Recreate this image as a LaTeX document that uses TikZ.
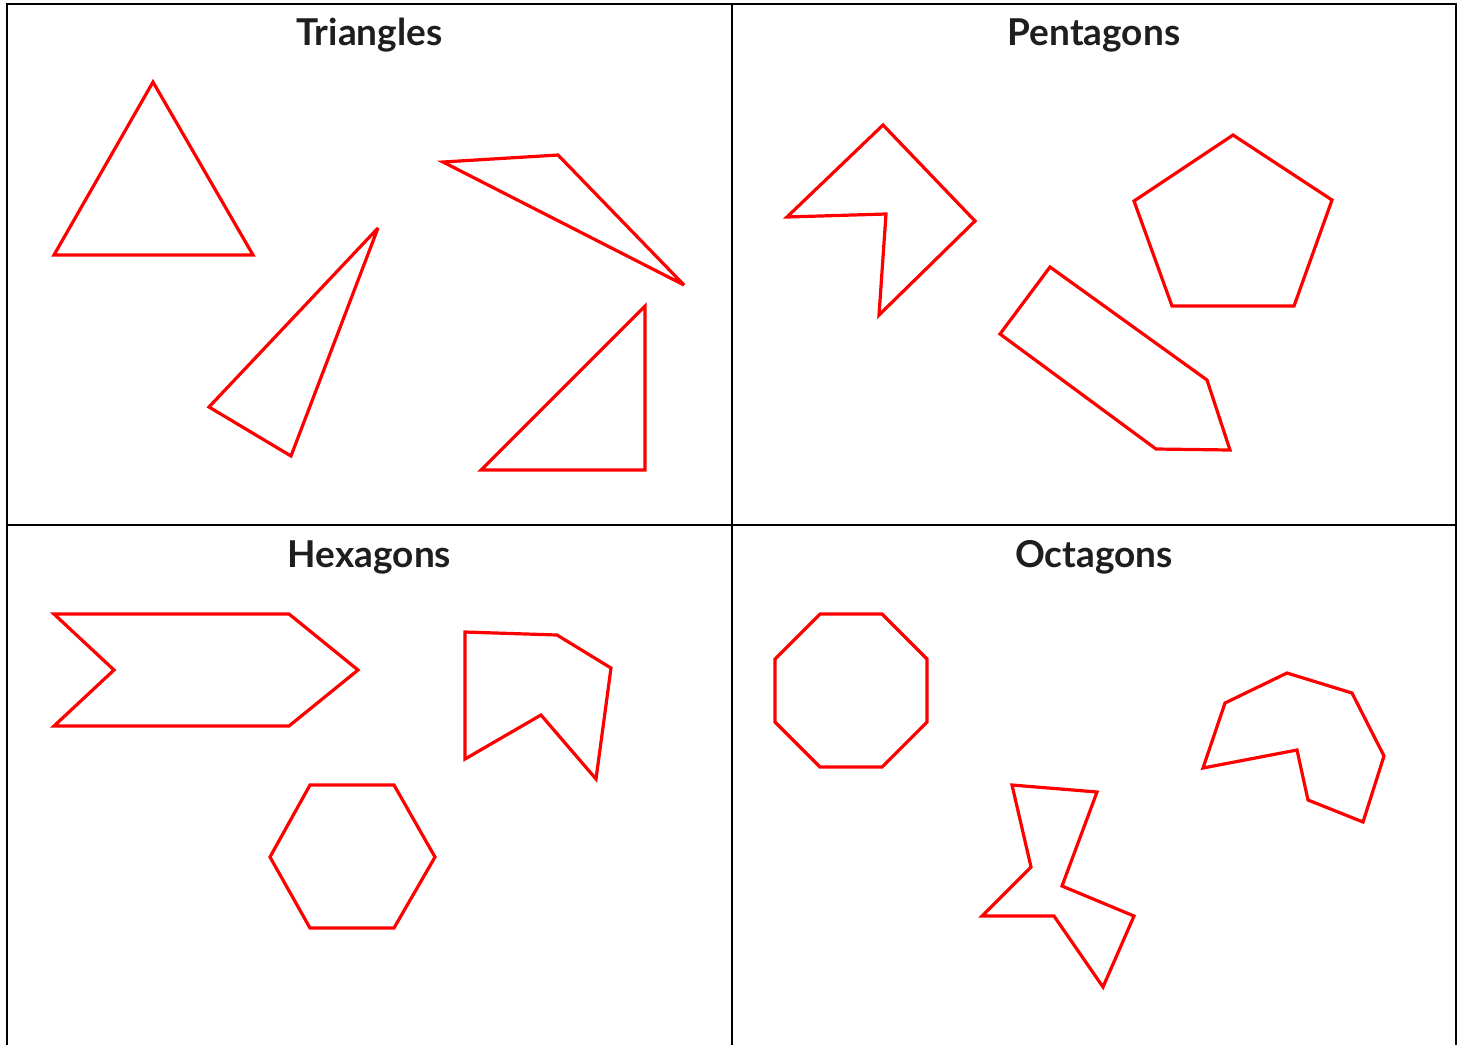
\documentclass[tikz,border=0pt]{standalone}
\usepackage{fontspec}
\setmainfont{Lato}
\definecolor{shapered}{HTML}{FF0000}
\definecolor{titlegray}{HTML}{1E1E1E}
\begin{document}
\begin{tikzpicture}[x=1pt,y=-1pt,
  grid/.style={draw=black,line width=2.5pt},
  poly/.style={draw=shapered,line width=3.2pt,line join=miter,miter limit=4},
  title/.style={anchor=base,text=titlegray,font=\fontsize{37}{42}\selectfont\bfseries,inner sep=0pt}]
\useasboundingbox (0,0) rectangle (1466,1045);
\fill[white] (0,0) rectangle (1466,1045);
% grid
\draw[grid] (7,1045) -- (7,4) -- (1456,4) -- (1456,1045);
\draw[grid] (732,4) -- (732,1045);
\draw[grid] (7,525) -- (1456,525);
% titles
\node[title] (tt) at (369.5,45) {Triangles};
\node[title] (tp) at (1094,45) {Pentagons};
\node[title] (th) at (369.5,567) {Hexagons};
\node[title] (to) at (1094,567) {Octagons};
% triangles
\draw[poly] (153,82) -- (253,255) -- (54,255) -- cycle;
\draw[poly] (378,228) -- (291,456) -- (209,407) -- cycle;
\draw[poly] (443,162) -- (558,155) -- (684,285) -- cycle;
\draw[poly] (645,306) -- (645,470) -- (481,470) -- cycle;
% pentagons
\draw[poly] (883,125) -- (975,221) -- (879,315) -- (886,214) -- (787,217) -- cycle;
\draw[poly] (1233,135) -- (1332,200) -- (1294,306) -- (1172,306) -- (1134,201) -- cycle;
\draw[poly] (1050,267) -- (1207,380) -- (1230,450) -- (1156,449) -- (1000,334) -- cycle;
% hexagons
\draw[poly] (54,614) -- (289,614) -- (358,670) -- (289,726) -- (54,726) -- (114,670) -- cycle;
\draw[poly] (465,632) -- (557,635) -- (611,668) -- (596,779) -- (541,715) -- (465,759) -- cycle;
\draw[poly] (310,785) -- (394,785) -- (435,857) -- (394,928) -- (310,928) -- (270,857) -- cycle;
% octagons
\draw[poly] (820,614) -- (882,614) -- (927,659) -- (927,722) -- (882,767) -- (820,767) -- (775,722) -- (775,659) -- cycle;
\draw[poly] (1012,785) -- (1097,792) -- (1062,886) -- (1134,916) -- (1103,987) -- (1054,916) -- (982,916) -- (1031,867) -- cycle;
\draw[poly] (1225,703) -- (1287,673) -- (1352,693) -- (1384,756) -- (1363,822) -- (1308,800) -- (1297,750) -- (1203,768) -- cycle;
\end{tikzpicture}
\end{document}
